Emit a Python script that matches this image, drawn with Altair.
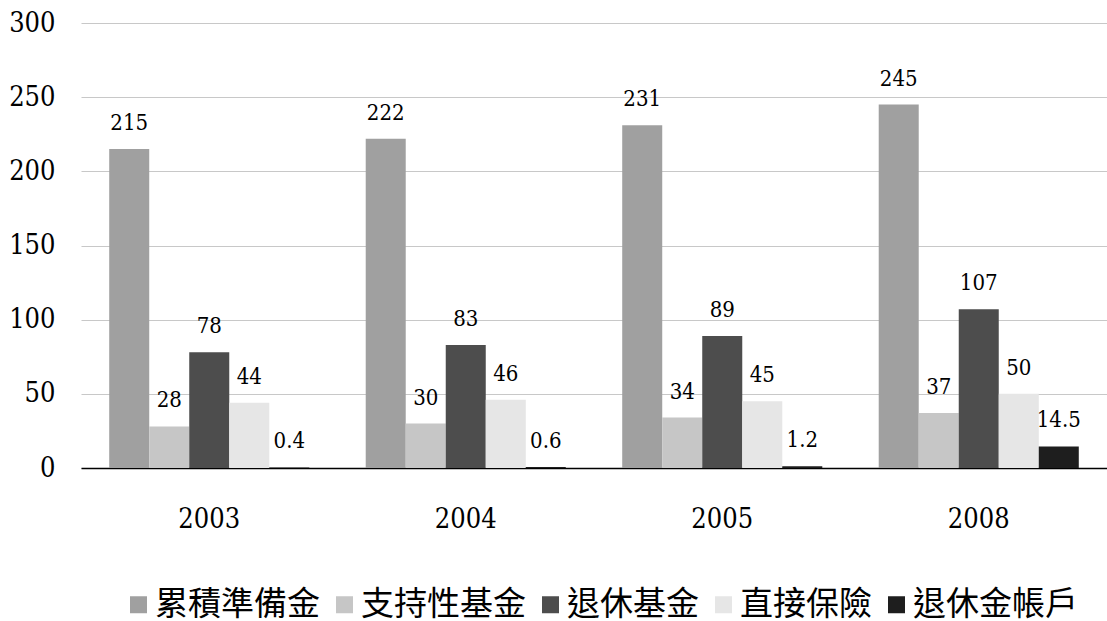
import altair as alt
import pandas as pd

# Fund balances by year and fund type
years = ["2003", "2004", "2005", "2008"]
series = ["累積準備金", "支持性基金", "退休基金", "直接保險", "退休金帳戶"]
values = {
    "累積準備金": [215, 222, 231, 245],
    "支持性基金": [28, 30, 34, 37],
    "退休基金": [78, 83, 89, 107],
    "直接保險": [44, 46, 45, 50],
    "退休金帳戶": [0.4, 0.6, 1.2, 14.5],
}
labels = {
    "累積準備金": ["215", "222", "231", "245"],
    "支持性基金": ["28", "30", "34", "37"],
    "退休基金": ["78", "83", "89", "107"],
    "直接保險": ["44", "46", "45", "50"],
    "退休金帳戶": ["0.4", "0.6", "1.2", "14.5"],
}
colors = ["#a0a0a0", "#c6c6c6", "#4d4d4d", "#e6e6e6", "#1e1e1e"]

NUM_FONT = "DejaVu Serif Condensed, DejaVu Serif, serif"

rows = []
for s in series:
    for i, y in enumerate(years):
        rows.append({"year": y, "fund": s, "value": values[s][i], "label": labels[s][i]})
df = pd.DataFrame(rows)

x_enc = alt.X(
    "year:N",
    sort=years,
    title=None,
    scale=alt.Scale(paddingInner=0.22, paddingOuter=0.11),
)
y_enc = alt.Y(
    "value:Q",
    title=None,
    scale=alt.Scale(domain=[0, 300], nice=False),
    axis=alt.Axis(values=[0, 50, 100, 150, 200, 250, 300]),
)
xoff = alt.XOffset("fund:N", sort=series, scale=alt.Scale(paddingInner=0, paddingOuter=0))

bars = alt.Chart(df).mark_bar(strokeWidth=0).encode(
    x=x_enc,
    xOffset=xoff,
    y=y_enc,
    color=alt.Color(
        "fund:N",
        sort=series,
        scale=alt.Scale(domain=series, range=colors),
        legend=alt.Legend(
            title=None,
            orient="none",
            direction="horizontal",
            legendX=41,
            legendY=565,
            padding=0,
            symbolType="square",
            symbolSize=289,
            symbolStrokeWidth=0,
            labelFont="Noto Sans CJK TC",
            labelFontSize=33,
            labelLimit=400,
            labelColor="#000000",
            labelOffset=0,
            columnPadding=8,
            symbolOffset=0,
        ),
    ),
)

text = alt.Chart(df).mark_text(
    baseline="bottom",
    dy=-14,
    font=NUM_FONT,
    fontSize=22,
    color="#000000",
).encode(
    x=x_enc,
    xOffset=xoff,
    y=y_enc,
    text="label:N",
)

chart = (
    alt.layer(bars, text)
    .properties(
        width=1026,
        height=445,
        autosize=alt.AutoSizeParams(type="none"),
        padding={"left": 81, "top": 23, "right": 0, "bottom": 153},
        background="#ffffff",
    )
    .configure_view(strokeWidth=0, stroke="transparent")
    .configure_axisX(
        labelAngle=0,
        labelFont=NUM_FONT,
        labelFontSize=27,
        labelColor="#000000",
        labelPadding=38,
        ticks=False,
        domainColor="#000000",
        domainWidth=1.5,
        grid=False,
    )
    .configure_axisY(
        labelFont=NUM_FONT,
        labelFontSize=27,
        labelColor="#000000",
        labelPadding=26,
        ticks=False,
        domain=False,
        gridColor="#c8c8c8",
        gridWidth=1.2,
    )
)

chart.save("out.html", embed_options={"renderer": "svg", "actions": False})
